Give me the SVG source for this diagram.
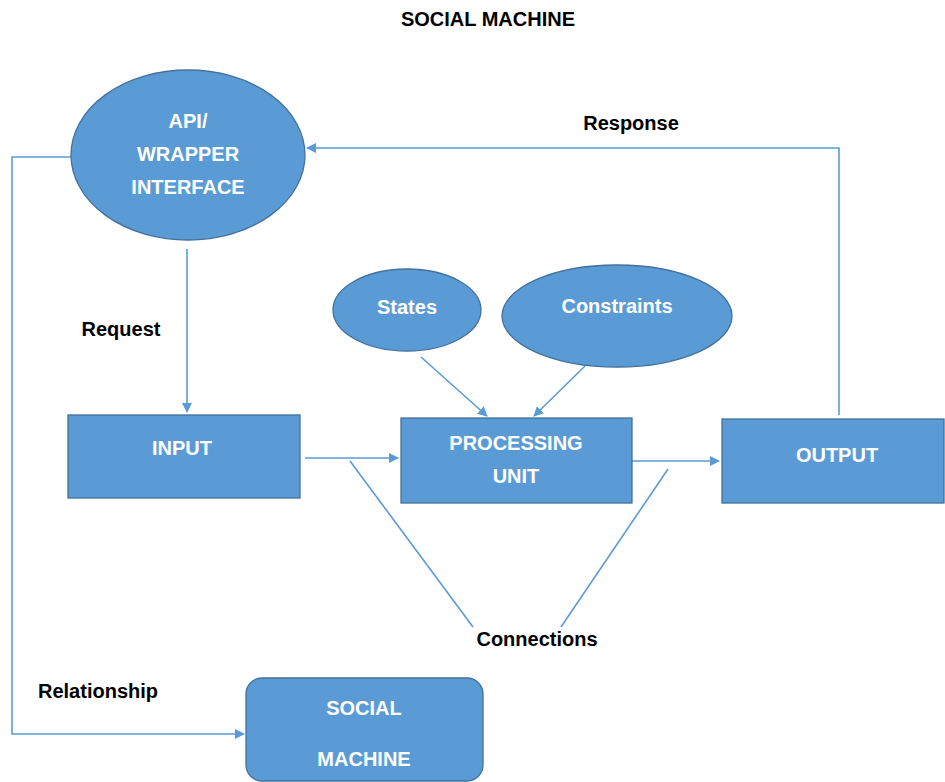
<svg xmlns="http://www.w3.org/2000/svg" width="945" height="782" viewBox="0 0 945 782">
<defs>
<style>
.node{fill:#5B9BD5;stroke:#41719C;stroke-width:1.3}
.nt{font-family:"Liberation Sans",Arial,sans-serif;font-weight:bold;font-size:20px;fill:#ffffff;text-anchor:middle}
.lbl{font-family:"Liberation Sans",Arial,sans-serif;font-weight:bold;font-size:20px;fill:#000000;text-anchor:middle}
.con{fill:none;stroke:#5B9BD5;stroke-width:1.6}
</style>
<marker id="ah" viewBox="0 0 10 10" refX="9" refY="5" markerWidth="10" markerHeight="10" markerUnits="userSpaceOnUse" orient="auto">
<path d="M0,0 L10,5 L0,10 z" fill="#5B9BD5"/>
</marker>
</defs>
<rect width="945" height="782" fill="#ffffff"/>
<text class="lbl" x="488" y="26">SOCIAL MACHINE</text>
<g id="connectors">
<polyline class="con" points="839,415 839,148 307,148" marker-end="url(#ah)"/>
<polyline class="con" points="71,157 12,157 12,734 244,734" marker-end="url(#ah)"/>
<line class="con" x1="187" y1="249" x2="187" y2="412" marker-end="url(#ah)"/>
<line class="con" x1="305" y1="458" x2="398" y2="458" marker-end="url(#ah)"/>
<line class="con" x1="632" y1="461" x2="719" y2="461" marker-end="url(#ah)"/>
<line class="con" x1="421" y1="357" x2="487" y2="416" marker-end="url(#ah)"/>
<line class="con" x1="585" y1="366" x2="534" y2="416" marker-end="url(#ah)"/>
<line class="con" x1="350" y1="461" x2="473" y2="627"/>
<line class="con" x1="668" y1="469" x2="561" y2="627"/>
<text class="lbl" x="631" y="130">Response</text>
<text class="lbl" x="121" y="336">Request</text>
<text class="lbl" x="537" y="646">Connections</text>
<text class="lbl" x="98" y="698">Relationship</text>
</g>
<g id="api">
<ellipse class="node" cx="188" cy="155" rx="117" ry="85"/>
<text class="nt" x="188" y="128">API/</text>
<text class="nt" x="188" y="161">WRAPPER</text>
<text class="nt" x="188" y="194">INTERFACE</text>
</g>
<g id="states">
<ellipse class="node" cx="407" cy="310" rx="74" ry="41"/>
<text class="nt" x="407" y="314">States</text>
</g>
<g id="constraints">
<ellipse class="node" cx="617" cy="316" rx="115" ry="51"/>
<text class="nt" x="617" y="313">Constraints</text>
</g>
<g id="input">
<rect class="node" x="68" y="415" width="232" height="83"/>
<text class="nt" x="182" y="455">INPUT</text>
</g>
<g id="processing">
<rect class="node" x="401" y="418" width="231" height="85"/>
<text class="nt" x="516" y="450">PROCESSING</text>
<text class="nt" x="516" y="483">UNIT</text>
</g>
<g id="output">
<rect class="node" x="722" y="419" width="222" height="84"/>
<text class="nt" x="837" y="462">OUTPUT</text>
</g>
<g id="socialmachine">
<rect class="node" x="246" y="678" width="237" height="103" rx="16" ry="16"/>
<text class="nt" x="364" y="715">SOCIAL</text>
<text class="nt" x="364" y="766">MACHINE</text>
</g>
</svg>
